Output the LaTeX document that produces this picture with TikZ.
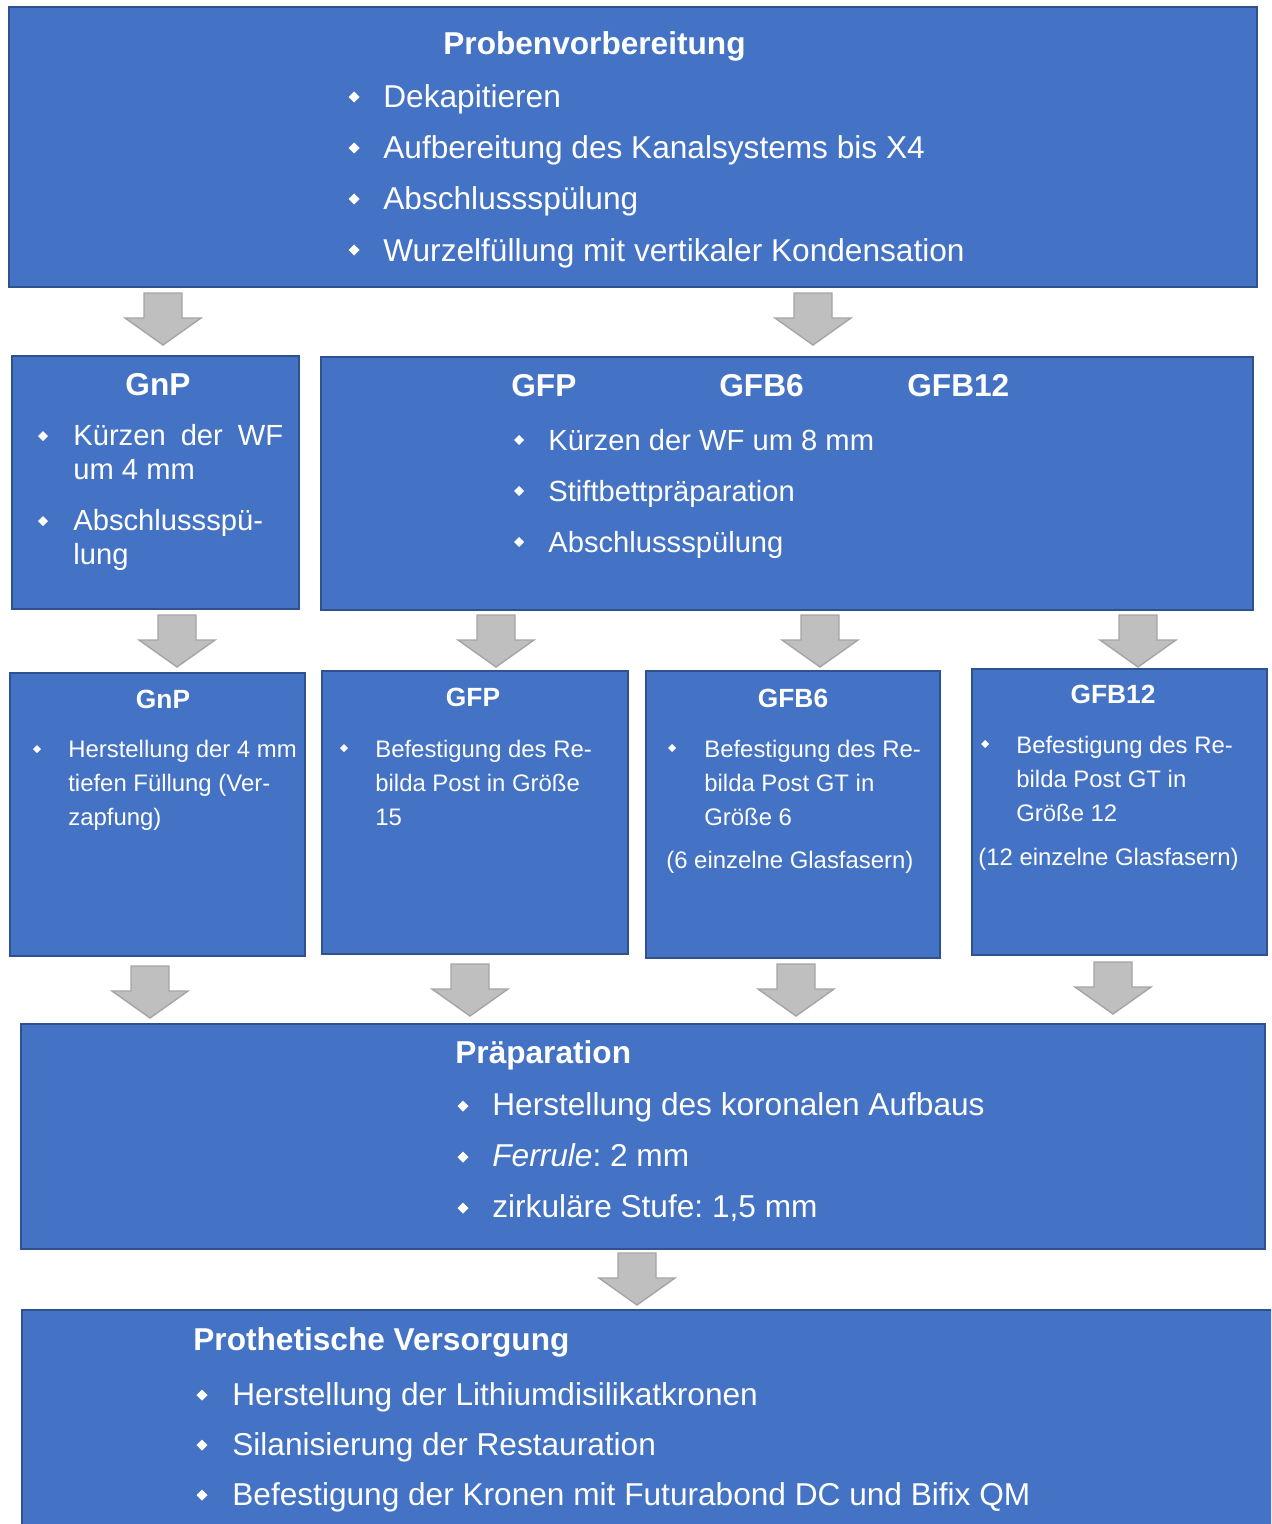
\documentclass[tikz,border=0pt]{standalone}
\usepackage{fontspec}
\setmainfont{Liberation Sans}
\usetikzlibrary{fit}
\definecolor{boxblue}{HTML}{4472C4}
\definecolor{boxedge}{HTML}{2F528F}
\definecolor{arrgray}{HTML}{BFBFBF}
\definecolor{arredge}{HTML}{A5A5A5}
\newlength\pxl
\setlength\pxl{0.02cm}
\frenchspacing
% lines of one item, baseline at the first line
\newcommand\lines[1]{\begin{tabular}[t]{@{}l@{}}#1\end{tabular}}

\tikzset{
	box/.style={draw=boxedge, fill=boxblue, line width=1.1pt, inner sep=0pt},
	txt/.style={text=white, inner sep=0pt, anchor=base west},
	bigtxt/.style={txt, font=\fontsize{18}{28.9}\selectfont},
	bighead/.style={bigtxt, font=\fontsize{18}{28.9}\selectfont\bfseries},
	midtxt/.style={txt, font=\fontsize{16.6}{19.8}\selectfont},
	smalltxt/.style={txt, font=\fontsize{13.6}{19.6}\selectfont},
	smallhead/.style={txt, anchor=base, font=\fontsize{15}{18}\selectfont\bfseries},
	pics/garrow/.style={code={
		\draw[fill=arrgray, draw=arredge, line width=0.8pt] (-19,0) -- (19,0) -- (19,25) -- (38,25)
			-- (0,52) -- (-38,25) -- (-19,25) -- cycle;}},
	pics/bul/.style={code={\fill[white] (-#1,0) -- (0,-#1) -- (#1,0) -- (0,#1) -- cycle;}},
}

\begin{document}
\frenchspacing
\begin{tikzpicture}[x=0.02cm, y=-0.02cm]
		%%%%% START %%%%%
		\clip (0,0) rectangle (1271,1524);
		\fill[white] (0,0) rectangle (1271,1524);
		
		% boxes
		\node[box, fit={(9,7) (1257,287)}] (top) {};
		\node[box, fit={(12,356) (299,609)}] (gnpA) {};
		\node[box, fit={(321,357) (1253,610)}] (gfA) {};
		\node[box, fit={(10,673) (305,956)}] (gnpB) {};
		\node[box, fit={(322,671) (628,954)}] (gfpB) {};
		\node[box, fit={(646,671) (940,958)}] (gfbsix) {};
		\node[box, fit={(972,669) (1267,955)}] (gfbtwelve) {};
		\node[box, fit={(21,1024) (1265,1249)}] (prep) {};
		\node[box, fit={(22,1310) (1300,1560)}] (prot) {};
		
		% arrows
		\foreach \x/\y in {163/293, 813/293, 177/615, 496/615, 820/615, 1138/615,
			150/966, 470/964, 796/964, 1113/962, 637/1253}
			\pic at (\x,\y) {garrow};
		
		% Probenvorbereitung
		\node[bighead] (tophead) at (443,55) {Probenvorbereitung};
		\foreach \t [count=\i] in {Dekapitieren, Aufbereitung des Kanalsystems bis X4,
			Abschlussspülung, Wurzelfüllung mit vertikaler Kondensation}{
			\pic at (354,{97+51*(\i-1)}) {bul=5.5};
			\node[bigtxt] (top\i) at (383,{108+51*(\i-1)}) {\t};
		}
		
		% GnP (second row)
		\node[bighead, anchor=base] (gnpAhead) at (158,395) {GnP};
		\pic at (43,436) {bul=5};
		\node[midtxt] (gnpA1) at (73,445) {\lines{\makebox[210\pxl][s]{Kürzen der WF}\\um 4 mm}};
		\pic at (43,521) {bul=5};
		\node[midtxt] (gnpA2) at (73,530) {\lines{Abschlussspü-\\lung}};
		
		% GFP, GFB6, GFB12 (second row)
		\node[bighead] (gfAhead1) at (511,396) {GFP};
		\node[bighead] (gfAhead2) at (719,396) {GFB6};
		\node[bighead] (gfAhead3) at (907,396) {GFB12};
		\foreach \t [count=\i] in {Kürzen der WF um 8 mm, Stiftbettpräparation, Abschlussspülung}{
			\pic at (519,{440+51*(\i-1)}) {bul=5};
			\node[midtxt] (gfA\i) at (548,{450+51*(\i-1)}) {\t};
		}
		
		% third row
		\node[smallhead] (gnpBhead) at (163,708) {GnP};
		\pic at (37,749) {bul=4};
		\node[smalltxt] (gnpB1) at (68,757) {\lines{Herstellung der 4 mm\\tiefen Füllung (Ver-\\zapfung)}};
		
		\node[smallhead] (gfpBhead) at (473,706) {GFP};
		\pic at (344,748) {bul=4};
		\node[smalltxt] (gfpB1) at (375,757) {\lines{Befestigung des Re-\\bilda Post in Größe\\15}};
		
		\node[smallhead] (gfbsixhead) at (793,707) {GFB6};
		\pic at (672,748) {bul=4};
		\node[smalltxt] (gfbsix1) at (704,757) {\lines{Befestigung des Re-\\bilda Post GT in\\Größe 6}};
		\node[smalltxt] (gfbsix2) at (666,868) {(6 einzelne Glasfasern)};
		
		\node[smallhead] (gfbtwelvehead) at (1113,703) {GFB12};
		\pic at (985,744) {bul=4};
		\node[smalltxt] (gfbtwelve1) at (1016,753) {\lines{Befestigung des Re-\\bilda Post GT in\\Größe 12}};
		\node[smalltxt] (gfbtwelve2) at (978,865) {(12 einzelne Glasfasern)};
		
		% Praeparation
		\node[bighead] (prephead) at (455,1063) {Präparation};
		\foreach \t [count=\i] in {Herstellung des koronalen Aufbaus, {\textit{Ferrule}: 2 mm},
			{zirkuläre Stufe: 1,5 mm}}{
			\pic at (463,{1106+51*(\i-1)}) {bul=5.5};
			\node[bigtxt] (prep\i) at (492,{1115+51*(\i-1)}) {\t};
		}
		
		% Prothetische Versorgung
		\node[bighead] (prothead) at (193,1350) {Prothetische Versorgung};
		\foreach \t [count=\i] in {Herstellung der Lithiumdisilikatkronen, Silanisierung der Restauration,
			Befestigung der Kronen mit Futurabond DC und Bifix QM}{
			\pic at (202,{1395+50*(\i-1)}) {bul=5.5};
			\node[bigtxt] (prot\i) at (232,{1405+50*(\i-1)}) {\t};
		}
		%%%%% END %%%%%
\end{tikzpicture}
\end{document}
